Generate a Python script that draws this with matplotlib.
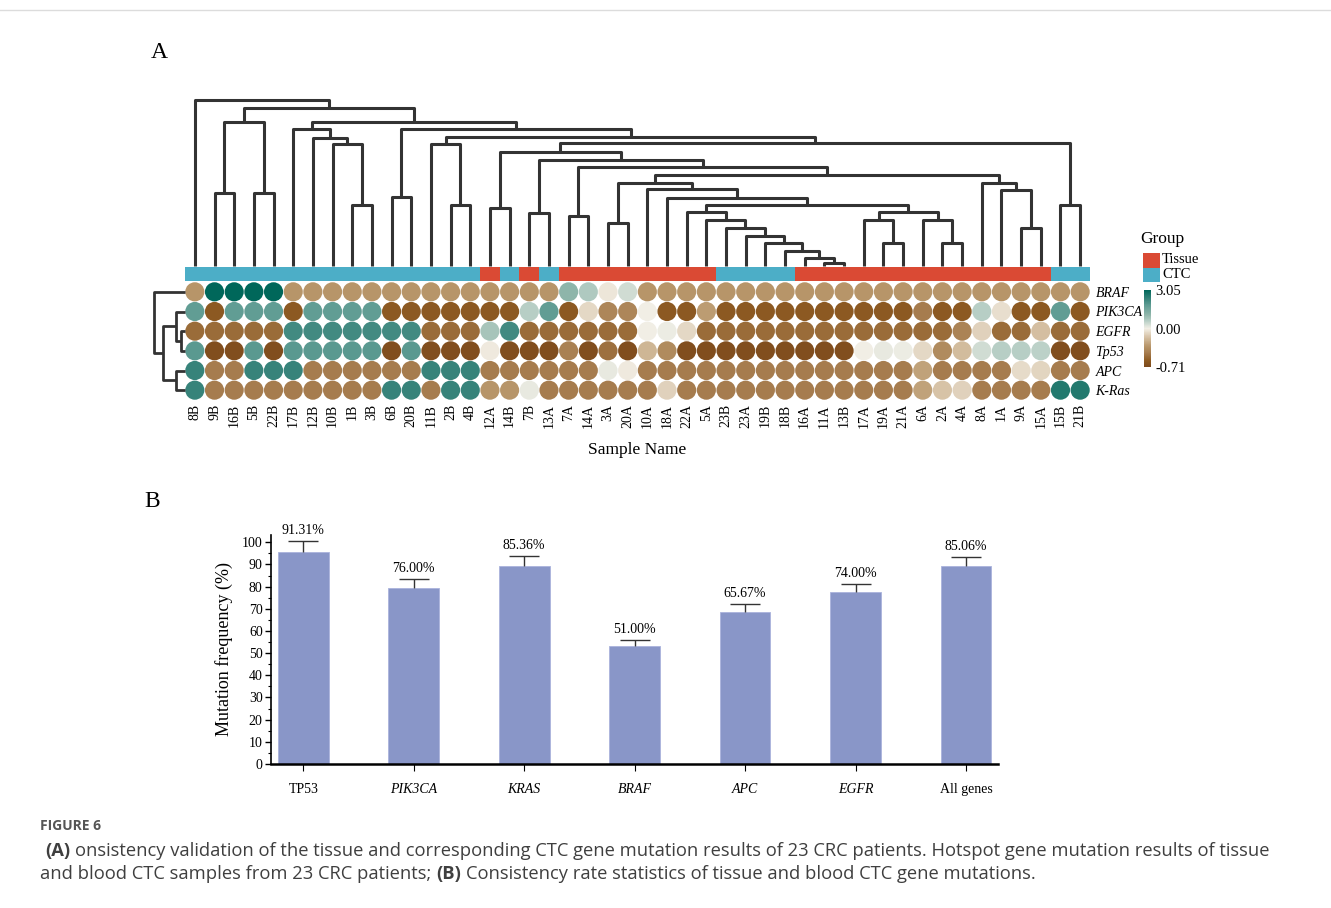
import matplotlib
matplotlib.use('Agg')
import matplotlib.pyplot as plt
from matplotlib.colors import LinearSegmentedColormap, TwoSlopeNorm
from matplotlib.patches import Rectangle
from matplotlib.lines import Line2D
from matplotlib.ticker import MultipleLocator

# ---------------- painel A: amostras, grupos, valores ----------------
samples = ["8B", "9B", "16B", "5B", "22B", "17B", "12B", "10B", "1B", "3B", "6B", "20B",
           "11B", "2B", "4B", "12A", "14B", "7B", "13A", "7A", "14A", "3A", "20A", "10A",
           "18A", "22A", "5A", "23B", "23A", "19B", "18B", "16A", "11A", "13B", "17A",
           "19A", "21A", "6A", "2A", "4A", "8A", "1A", "9A", "15A", "15B", "21B"]

groups = ["CTC"] * 15 + ["Tissue", "CTC", "Tissue", "CTC"] + ["Tissue"] * 8 + ["CTC"] * 4 \
    + ["Tissue"] * 13 + ["CTC"] * 2

genes = ["BRAF", "PIK3CA", "EGFR", "Tp53", "APC", "K-Ras"]

braf = [-0.33, 3.05, 3.05, 3.05, 3.05, -0.33, -0.33, -0.33, -0.33, -0.33, -0.33, -0.33,
        -0.33, -0.33, -0.33, -0.33, -0.33, -0.33, -0.33, 1.1, 0.7, -0.03, 0.35, -0.33,
        -0.33, -0.33, -0.33, -0.33, -0.33, -0.33, -0.33, -0.33, -0.33, -0.33, -0.33,
        -0.33, -0.33, -0.33, -0.33, -0.33, -0.33, -0.33, -0.33, -0.33, -0.33, -0.33]
pik3ca = [1.8, -0.6, 1.8, 1.8, 1.8, -0.6, 1.8, 1.8, 1.8, 1.8, -0.6, -0.6,
          -0.6, -0.6, -0.6, -0.6, -0.6, 0.6, 1.8, -0.6, -0.08, -0.4, -0.4, 0.02,
          -0.6, -0.6, -0.3, -0.6, -0.6, -0.6, -0.6, -0.6, -0.6, -0.6, -0.6,
          -0.6, -0.6, -0.45, -0.6, -0.6, 0.6, -0.06, -0.6, -0.6, 1.8, -0.6]
egfr = [-0.52, -0.52, -0.52, -0.52, -0.52, 2.2, 2.2, 2.2, 2.2, 2.2, 2.2, 2.2,
        -0.52, -0.52, -0.52, 0.8, 2.2, -0.52, -0.52, -0.52, -0.52, -0.52, -0.52, 0.02,
        0.05, -0.08, -0.52, -0.52, -0.52, -0.52, -0.52, -0.52, -0.52, -0.52, -0.52,
        -0.52, -0.52, -0.52, -0.52, -0.42, -0.1, -0.52, -0.52, -0.17, -0.52, -0.52]
tp53 = [1.9, -0.68, -0.68, 1.9, -0.68, 1.9, 1.9, 1.9, 1.9, 1.9, -0.68, 1.9,
        -0.68, -0.68, -0.68, -0.02, -0.68, -0.68, -0.68, -0.43, -0.68, -0.5, -0.68, -0.2,
        -0.38, -0.68, -0.68, -0.68, -0.68, -0.68, -0.68, -0.68, -0.68, -0.68, 0.02,
        0.1, 0.05, -0.08, -0.38, -0.18, 0.35, 0.6, 0.6, 0.55, -0.68, -0.68]
apc = [2.35, -0.45, -0.45, 2.35, 2.35, 2.35, -0.45, -0.45, -0.45, -0.45, -0.45, -0.45,
       2.35, 2.35, 2.35, -0.45, -0.45, -0.45, -0.45, -0.45, -0.45, 0.1, -0.02, -0.45,
       -0.45, -0.45, -0.45, -0.45, -0.45, -0.45, -0.45, -0.45, -0.45, -0.45, -0.45,
       -0.45, -0.45, -0.28, -0.45, -0.45, -0.45, -0.45, -0.07, -0.09, -0.45, -0.45]
kras = [2.35, -0.45, -0.45, -0.45, -0.45, -0.45, -0.45, -0.45, -0.45, -0.45, 2.35, 2.35,
        -0.45, 2.35, 2.35, -0.33, -0.33, 0.1, -0.45, -0.45, -0.45, -0.45, -0.45, -0.45,
        -0.1, -0.45, -0.45, -0.45, -0.45, -0.45, -0.45, -0.45, -0.45, -0.45, -0.45,
        -0.45, -0.45, -0.28, -0.15, -0.1, -0.45, -0.45, -0.45, -0.45, 2.6, 2.6]

# arvore das amostras: (filho esq, filho dir, altura); inteiro = indice de juncao anterior
col_links = [
    ("9B", "16B", 73), ("5B", "22B", 73), (0, 1, 144), ("1B", "3B", 61),
    ("10B", 3, 122), ("12B", 4, 128), ("17B", 5, 137), ("6B", "20B", 69),
    ("2B", "4B", 61), ("11B", 8, 122), ("12A", "14B", 58), ("7B", "13A", 53),
    ("7A", "14A", 50), ("3A", "20A", 43), ("11A", "13B", 3), ("16A", 14, 8),
    ("18B", 15, 15), ("19B", 16, 23), ("23A", 17, 30), ("23B", 18, 38),
    ("5A", 19, 46), ("22A", 20, 54), ("19A", "21A", 23), ("17A", 22, 46),
    ("2A", "4A", 23), ("6A", 24, 46), (23, 25, 54), (21, 26, 61),
    ("18A", 27, 68), ("10A", 28, 77), (13, 29, 83), ("9A", "15A", 38),
    ("1A", 31, 76), ("8A", 32, 83), (30, 33, 91), (12, 34, 99),
    (11, 35, 106), (10, 36, 114), ("15B", "21B", 61), (37, 38, 123),
    (9, 39, 129), (7, 40, 137), (6, 41, 144), (2, 42, 158), ("8B", 43, 166),
]
# arvore dos genes
row_links = [("EGFR", "Tp53", 4.3), ("PIK3CA", 0, 9), ("APC", "K-Ras", 9),
             (1, 2, 22.3), ("BRAF", 3, 31)]

# ---------------- painel B ----------------
bar_genes = ["TP53", "PIK3CA", "KRAS", "BRAF", "APC", "EGFR", "All genes"]
bar_mean = [95.7, 79.5, 89.5, 53.3, 68.7, 77.6, 89.2]
bar_err = [4.7, 3.9, 4.3, 2.7, 3.3, 3.6, 4.3]
bar_text = ["91.31%", "76.00%", "85.36%", "51.00%", "65.67%", "74.00%", "85.06%"]
italic_genes = ["PIK3CA", "KRAS", "BRAF", "APC", "EGFR"]

plt.rcParams['font.family'] = ['Liberation Serif', 'DejaVu Serif']

W, H = 1331, 908
fig = plt.figure(figsize=(W / 100, H / 100), dpi=100)


def box(x0, y0, x1, y1):
    # caixa em pixels (origem no topo) -> fracao da figura
    return [x0 / W, 1 - y1 / H, (x1 - x0) / W, (y1 - y0) / H]


def dendrograma(ax, links, leaves, vertical=True, cor='#333333', lw=2.2):
    pos, alt = [], []
    for a, b, h in links:
        pts = []
        for c in (a, b):
            if isinstance(c, str):
                pts.append((leaves.index(c), 0))
            else:
                pts.append((pos[c], alt[c]))
        pts.sort()
        (xa, ha), (xb, hb) = pts
        xs, hs = [xa, xa, xb, xb], [ha, h, h, hb]
        if vertical:
            ax.plot(xs, hs, color=cor, lw=lw, solid_capstyle='butt', clip_on=False)
        else:
            ax.plot(hs, xs, color=cor, lw=lw, solid_capstyle='butt', clip_on=False)
        pos.append((xa + xb) / 2)
        alt.append(h)


fig.add_artist(Line2D([0, 1], [1 - 10 / H] * 2, color='#dcdcdc', lw=1))
fig.text(159 / W, 1 - 52 / H, "A", fontsize=17, ha='center', va='center')
fig.text(152 / W, 1 - 502 / H, "B", fontsize=17, ha='center', va='center')

n = len(samples)

# dendrograma superior
ax_d = fig.add_axes(box(185, 98, 1090, 266))
dendrograma(ax_d, col_links, samples)
ax_d.set_xlim(-0.5, n - 0.5)
ax_d.set_ylim(0, 168)
ax_d.axis('off')

# barra de grupos
cores_grupo = {"Tissue": "#da4a34", "CTC": "#4caec7"}
ax_g = fig.add_axes(box(185, 267, 1090, 281))
ax_g.bar(range(n), 1, width=1.0, color=[cores_grupo[g] for g in groups], linewidth=0)
ax_g.set_xlim(-0.5, n - 0.5)
ax_g.set_ylim(0, 1)
ax_g.axis('off')

# mapa de bolinhas
cmap = LinearSegmentedColormap.from_list("brtl", [
    (0.0, '#7d4a1d'), (0.08, '#8d5a22'), (0.18, '#a67c4e'), (0.27, '#b8966a'),
    (0.39, '#d6c2a6'), (0.5, '#f2efe6'), (0.6, '#b7cec5'), (0.68, '#8fb5aa'),
    (0.8, '#5f9c93'), (0.88, '#3a857c'), (1.0, '#00675a')])
norm = TwoSlopeNorm(vmin=-0.71, vcenter=0, vmax=3.05)

linhas = [braf, pik3ca, egfr, tp53, apc, kras]
xx, yy, vv = [], [], []
for r, vals in enumerate(linhas):
    for c, v in enumerate(vals):
        xx.append(c)
        yy.append(r)
        vv.append(v)

ax_h = fig.add_axes(box(185, 282, 1090, 400))
sc = ax_h.scatter(xx, yy, c=vv, cmap=cmap, norm=norm, s=190, linewidths=0)
ax_h.set_xlim(-0.5, n - 0.5)
ax_h.set_ylim(len(genes) - 0.5, -0.5)
for s in ax_h.spines.values():
    s.set_visible(False)
ax_h.set_xticks(range(n))
ax_h.set_xticklabels(samples, rotation=90, fontsize=10)
ax_h.yaxis.tick_right()
ax_h.set_yticks(range(len(genes)))
ax_h.set_yticklabels(genes, fontsize=10, style='italic')
ax_h.tick_params(length=0, pad=3)
ax_h.tick_params(axis='y', pad=4)
ax_h.set_xlabel("Sample Name", fontsize=12.5, labelpad=10)

# dendrograma dos genes
ax_r = fig.add_axes(box(150, 282, 185, 400))
dendrograma(ax_r, row_links, genes, vertical=False, lw=2.0)
ax_r.set_xlim(35, 0)
ax_r.set_ylim(len(genes) - 0.5, -0.5)
ax_r.axis('off')

# legenda de grupo
fig.text(1140 / W, 1 - 239 / H, "Group", fontsize=12.5, va='center')
for i, g in enumerate(["Tissue", "CTC"]):
    y0 = 253.3 + i * 14.5
    fig.add_artist(Rectangle((1143 / W, 1 - (y0 + 14.5) / H), 16.5 / W, 14.5 / H,
                             transform=fig.transFigure, color=cores_grupo[g], lw=0))
    fig.text(1162 / W, 1 - (y0 + 6.5) / H, g, fontsize=10.5, va='center')

# barra de cores
cax = fig.add_axes(box(1144, 290, 1151, 367))
cb = fig.colorbar(sc, cax=cax, ticks=[-0.71, 0, 3.05])
cb.ax.set_yticklabels(["-0.71", "0.00", "3.05"])
cb.outline.set_visible(False)
cb.ax.tick_params(length=0, labelsize=10.5, pad=3)

# ---------------- painel B: barras ----------------
ax_b = fig.add_axes(box(271, 535, 998, 764))
x = list(range(len(bar_genes)))
ax_b.bar(x, bar_mean, width=0.46, color='#8996c8', edgecolor='#aab3dc', linewidth=0.6, zorder=2)
eb = ax_b.errorbar(x, bar_mean, yerr=[[0] * len(x), bar_err], fmt='none', ecolor='#333333',
                   elinewidth=1, capsize=11, capthick=1, zorder=3)
eb[1][0].set_visible(False)
for xi, m, e, t in zip(x, bar_mean, bar_err, bar_text):
    ax_b.annotate(t, (xi, m + e), xytext=(0, 3), textcoords='offset points',
                  ha='center', va='bottom', fontsize=10)
ax_b.set_xlim(-0.292, 6.29)
ax_b.set_ylim(0, 103.3)
ax_b.set_yticks(range(0, 101, 10))
ax_b.yaxis.set_minor_locator(MultipleLocator(5))
ax_b.set_xticks(x)
ax_b.set_xticklabels(bar_genes, fontsize=10)
for lab in ax_b.get_xticklabels():
    if lab.get_text() in italic_genes:
        lab.set_style('italic')
ax_b.tick_params(axis='y', which='major', length=4, width=1, pad=2, labelsize=10)
ax_b.tick_params(axis='y', which='minor', length=2.5, width=0.8)
ax_b.tick_params(axis='x', length=5, width=0.8, pad=8.5)
ax_b.spines['top'].set_visible(False)
ax_b.spines['right'].set_visible(False)
ax_b.spines['left'].set_linewidth(1.2)
ax_b.spines['bottom'].set_linewidth(1.8)
ax_b.set_ylabel("Mutation frequency (%)", fontsize=13)
ax_b.yaxis.set_label_coords((233 - 271) / 727, 0.5)

# ---------------- legenda da figura ----------------
renderer = fig.canvas.get_renderer()
cor_txt = '#3f3f3f'


def largura(s, **kw):
    t = fig.text(0, 0, s, **kw)
    w = t.get_window_extent(renderer).width
    t.remove()
    return w


linha1 = [("(A)", "bold"), ("onsistency validation of the tissue and corresponding CTC gene mutation "
                            "results of 23 CRC patients. Hotspot gene mutation results of tissue", "normal")]
linha2 = [("and blood CTC samples from 23 CRC patients;", "normal"), ("(B)", "bold"),
          ("Consistency rate statistics of tissue and blood CTC gene mutations.", "normal")]

base = 12
esp = largura("x x", family='Open Sans', fontsize=base) - largura("xx", family='Open Sans', fontsize=base)
w1 = sum(largura(s, family='Open Sans', fontsize=base, fontweight=wt) for s, wt in linha1) + esp
tam = base * (1268 - 45) / w1


def escreve(partes, x0, y):
    x = x0
    for s, wt in partes:
        t = fig.text(x / W, 1 - y / H, s, family='Open Sans', fontsize=tam, fontweight=wt,
                     color=cor_txt, va='center')
        x += t.get_window_extent(renderer).width + esp * tam / base


fig.text(40 / W, 1 - 826 / H, "FIGURE 6", family='Open Sans', fontsize=10, fontweight='bold',
         color='#555555', va='center')
escreve(linha1, 45, 851)
escreve(linha2, 40, 874)

fig.savefig("out.png", dpi=100)
